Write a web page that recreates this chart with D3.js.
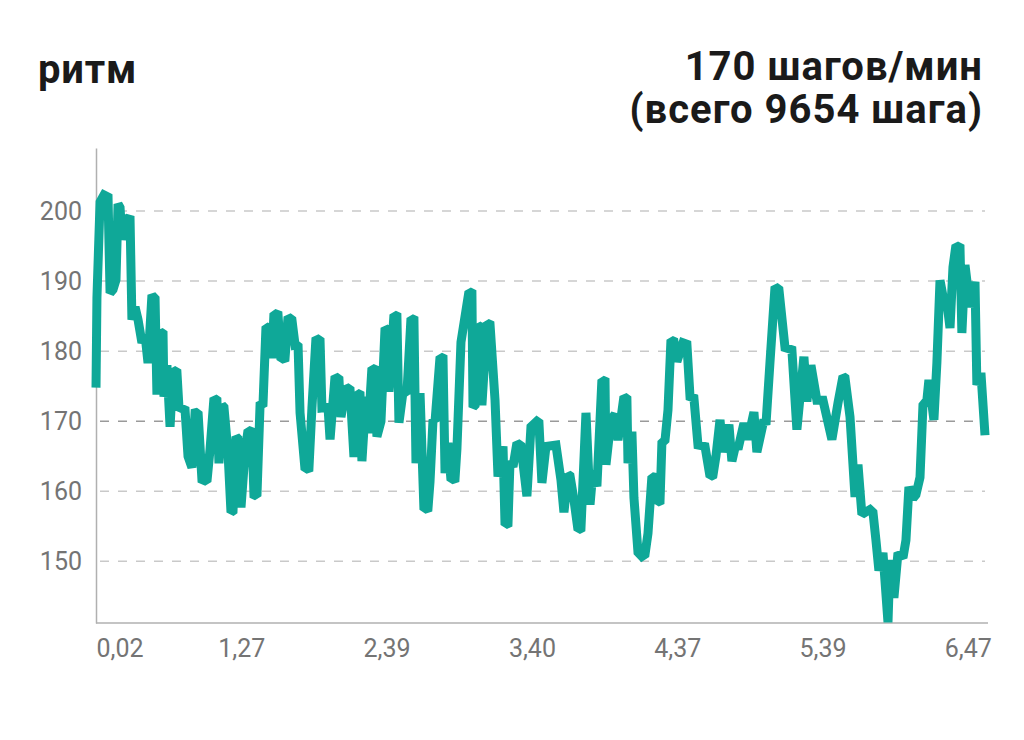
<!DOCTYPE html>
<html lang="ru">
<head>
  <meta charset="utf-8"/>
  <title>ритм</title>
  <script src="https://cdnjs.cloudflare.com/ajax/libs/d3/7.8.5/d3.min.js"></script>
  <style>
    html, body { margin: 0; padding: 0; background: #fff; }
    svg { display: block; font-family: Roboto, "Noto Sans", sans-serif; }
  </style>
</head>
<body>
<svg id="chart" width="1024" height="740"></svg>

<script>
  // elapsed time, minutes
  var minutes = [
    0.00, 0.06, 0.26, 0.51, 0.77, 0.90, 1.09, 1.28, 1.41, 1.54, 1.66, 1.86, 2.18, 2.30, 2.50, 2.69,
    2.94, 3.14, 3.33, 3.58, 3.78, 3.90, 4.10, 4.29, 4.35, 4.54, 4.74, 4.93, 5.18, 5.31, 5.70, 5.89,
    6.14, 6.34, 6.53, 6.78, 7.10, 7.30, 7.55, 7.74, 7.87, 8.06, 8.19, 8.45, 8.64, 8.77, 8.96, 9.09,
    9.28, 9.54, 9.73, 9.98, 10.11, 10.30, 10.50, 10.69, 10.88, 11.14, 11.26, 11.39, 11.65, 11.84,
    12.10, 12.29, 12.54, 12.74, 12.93, 13.06, 13.38, 13.63, 13.82, 14.08, 14.34, 14.46, 14.85, 14.98,
    15.30, 15.55, 15.68, 16.00, 16.26, 16.51, 16.70, 16.90, 17.02, 17.28, 17.41, 17.66, 17.86, 17.98,
    18.24, 18.50, 18.69, 18.75, 19.07, 19.26, 19.39, 19.65, 19.90, 20.16, 20.35, 20.48, 20.74, 20.99,
    21.25, 21.38, 21.57, 21.70, 22.02, 22.21, 22.34, 22.53, 22.72, 22.98, 23.10, 23.36, 23.87, 24.06,
    24.13, 24.26, 24.45, 24.58, 24.70, 25.02, 25.22, 25.54, 25.73, 26.05, 26.18, 26.37, 26.50, 26.69,
    26.94, 27.20, 27.58, 27.84, 28.22, 28.35, 28.54, 28.80, 29.44, 29.76, 29.95, 30.21, 30.34, 30.59,
    30.85, 31.04, 31.36, 31.62, 31.81, 32.06, 32.38, 32.58, 32.64, 32.96, 33.22, 33.41, 33.79, 33.98,
    34.05, 34.30, 34.43, 34.69, 34.94, 35.14, 35.33, 35.58, 35.78, 35.90, 36.10, 36.22, 36.42, 36.61,
    36.80, 36.99, 37.18, 37.57, 37.82, 38.02, 38.27, 38.53, 38.98, 39.30, 39.49, 39.68, 39.94, 40.13,
    40.51, 40.70, 40.96, 41.09, 41.47, 41.73, 42.11, 42.30, 42.75, 42.88, 43.14, 43.46, 43.71, 44.10,
    44.54, 44.86, 45.31, 45.50, 45.76, 46.14, 46.53, 47.10, 47.49, 47.81, 47.94, 48.26, 48.58, 48.77,
    49.02, 49.54, 49.73, 49.92, 50.11, 50.37, 50.69, 50.82, 51.07, 51.33, 51.65, 51.84, 52.03, 52.29,
    52.48, 52.74, 52.93, 53.18, 53.31, 53.63, 53.82, 54.02, 54.34, 54.46, 54.66, 54.85, 55.04, 55.30,
    55.42, 55.62, 55.94, 56.26, 56.38, 56.64, 56.90
  ];

  // cadence, steps per minute
  var cadence = [
    174.8, 187.6, 201.3, 202.3, 202.0, 188.3, 188.8, 190.2, 201.0, 200.5, 195.9, 199.0, 198.8, 184.5, 186.3, 184.5,
    181.2, 182.3, 178.3, 188.0, 187.5, 173.8, 182.8, 182.5, 173.5, 178.0, 169.2, 177.3, 177.0, 172.0, 171.6, 165.0,
    163.4, 171.2, 171.3, 161.7, 161.4, 166.0, 173.3, 173.0, 164.0, 172.3, 172.0, 165.5, 157.0, 157.2, 167.8, 167.5,
    157.7, 165.6, 168.7, 168.5, 159.5, 159.3, 172.3, 172.5, 183.5, 183.3, 179.0, 185.4, 185.2, 178.8,
    179.0, 184.9, 184.5, 180.9, 181.0, 171.2, 163.1, 163.3, 171.9, 181.9, 181.5, 171.9, 172.0, 167.4,
    176.4, 176.0, 170.6, 174.9, 174.5, 164.9, 174.0, 173.8, 164.3, 173.5, 168.3, 177.6, 177.4, 167.8,
    170.0, 183.3, 183.0, 174.2, 185.2, 185.0, 169.8, 174.2, 174.0, 184.7, 184.5, 164.0, 174.0, 157.4,
    157.6, 161.4, 170.2, 170.0, 179.2, 179.0, 162.6, 166.9, 161.6, 161.8, 166.0, 181.3, 188.5, 188.3,
    172.0, 172.3, 183.7, 183.5, 172.3, 184.0, 183.8, 173.0, 162.1, 166.4, 155.2, 155.4, 164.3, 163.5,
    166.9, 166.5, 159.3, 169.2, 170.0, 169.8, 161.2, 166.4, 166.6, 161.6, 157.0, 162.4, 162.2, 158.8,
    154.5, 154.7, 171.2, 158.1, 163.0, 160.7, 175.9, 175.7, 163.8, 170.2, 171.0, 167.3, 173.5, 173.2,
    164.0, 168.5, 159.1, 151.3, 150.7, 151.0, 154.0, 162.1, 162.0, 158.4, 158.6, 166.9, 167.3, 171.6,
    181.6, 181.4, 178.5, 181.2, 181.0, 173.5, 173.3, 166.6, 166.4, 162.1, 162.3, 165.0, 170.2, 165.6,
    169.5, 164.3, 166.8, 166.0, 169.7, 167.4, 171.3, 165.6, 170.2, 169.5, 178.5, 189.2, 188.8, 180.5,
    180.2, 168.8, 179.2, 172.8, 178.0, 173.0, 173.0, 167.4, 172.6, 176.4, 176.2, 170.6, 159.2, 163.8,
    156.7, 157.4, 157.0, 153.0, 148.7, 151.2, 141.3, 150.2, 144.8, 151.2, 150.5, 153.0, 160.6, 159.0,
    159.5, 162.0, 172.3, 173.0, 175.9, 170.2, 178.3, 190.1, 186.3, 187.0, 183.3, 192.0, 195.1, 194.8,
    182.6, 192.3, 186.3, 189.9, 175.2, 176.9, 168.0
  ];

  var yTicks = [150, 160, 170, 180, 190, 200];
  var targetCadence = 170;

  // x ticks: elapsed minutes and the distance (km) covered at that moment
  var tickMinutes = [0, 9.3, 18.6, 27.9, 37.2, 46.5, 55.8];
  var tickLabels = ["0,02", "1,27", "2,39", "3,40", "4,37", "5,39", "6,47"];

  var title = "ритм";
  var summary = ["170 шагов/мин", "(всего 9654 шага)"];

  var data = minutes.map(function(m, i) { return { t: m, v: cadence[i] }; });

  var svg = d3.select("#chart");
  var plotLeft = 96, plotRight = 985, plotTop = 148, plotBottom = 623;

  var x = d3.scaleLinear().domain([0, d3.max(minutes)]).range([plotLeft, plotRight]);
  var y = d3.scaleLinear().domain([141.2, 209]).range([plotBottom, plotTop]);

  // titles
  svg.append("text")
    .attr("x", 38).attr("y", 83)
    .style("font-size", "40px").style("font-weight", 700).style("fill", "#1a1a1a")
    .style("letter-spacing", "0.8px")
    .text(title);

  svg.selectAll(".summary")
    .data(summary)
    .enter().append("text")
    .attr("class", "summary")
    .attr("x", 983)
    .attr("y", function(d, i) { return 80 + i * 43; })
    .attr("text-anchor", "end")
    .style("font-size", "40px").style("font-weight", 700).style("fill", "#1a1a1a")
    .style("letter-spacing", "1px")
    .text(function(d) { return d; });

  // horizontal dashed grid
  svg.append("g")
    .selectAll("line")
    .data(yTicks)
    .enter().append("line")
    .attr("x1", plotLeft + 4).attr("x2", plotRight)
    .attr("y1", function(d) { return y(d); })
    .attr("y2", function(d) { return y(d); })
    .attr("stroke", function(d) { return d === targetCadence ? "#9a9a9a" : "#c9c9c9"; })
    .attr("stroke-width", 1.5)
    .attr("stroke-dasharray", "9,9");

  // y axis
  var yAxis = svg.append("g")
    .attr("transform", "translate(" + plotLeft + ",0)")
    .call(d3.axisLeft(y).tickValues(yTicks).tickSize(0).tickPadding(14));
  yAxis.select(".domain").attr("stroke", "#b0b0b0").attr("stroke-width", 1.5);
  yAxis.selectAll("text")
    .style("font-family", "Roboto, sans-serif")
    .style("font-size", "25px").style("fill", "#747474");

  // x axis
  var xAxis = svg.append("g")
    .attr("transform", "translate(0," + plotBottom + ")")
    .call(d3.axisBottom(x)
      .tickValues(tickMinutes)
      .tickFormat(function(d, i) { return tickLabels[i]; })
      .tickSize(0).tickPadding(16));
  xAxis.select(".domain").attr("stroke", "#b0b0b0").attr("stroke-width", 1.5)
    .attr("d", "M" + plotLeft + ",0H" + (plotRight + 3));
  xAxis.selectAll("text")
    .style("font-family", "Roboto, sans-serif")
    .style("font-size", "25px").style("fill", "#747474")
    .attr("text-anchor", function(d, i) { return i === 0 ? "start" : "middle"; });

  // cadence line
  var line = d3.line()
    .x(function(d) { return x(d.t); })
    .y(function(d) { return y(d.v); });

  svg.append("path")
    .datum(data)
    .attr("d", line)
    .attr("fill", "none")
    .attr("stroke", "#0fa898")
    .attr("stroke-width", 9)
    .attr("stroke-linejoin", "miter")
    .attr("stroke-miterlimit", 1.5);
</script>
</body>
</html>
